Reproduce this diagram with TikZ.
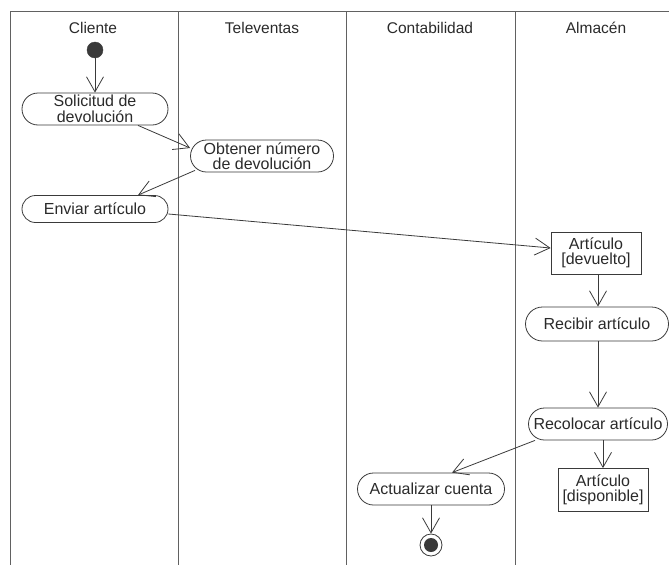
\documentclass[tikz,border=0pt]{standalone}
\usepackage{fontspec}
\setmainfont{Liberation Sans}
\usetikzlibrary{arrows.meta,shapes.misc,calc}
\definecolor{ink}{HTML}{3A3A3A}
\definecolor{txt}{HTML}{2A2A2A}
\begin{document}
\begin{tikzpicture}[x=1pt,y=-1pt,
  every node/.style={font=\fontsize{16}{15.5}\selectfont, text=txt},
  frame/.style={draw=ink!80, line width=0.9pt},
  action/.style={draw=ink, line width=0.8pt, rounded rectangle, inner sep=0pt, align=center},
  objbox/.style={draw=ink, line width=0.8pt, rectangle, inner sep=0pt, align=center},
  flow/.style={draw=ink, line width=0.8pt, -{Straight Barb[length=15pt,width=17pt,line width=0.8pt]}},
  lane/.style={anchor=base, font=\fontsize{15.5}{15.5}\selectfont}]
\useasboundingbox (0,0) rectangle (669,565);
% swimlane frame
\draw[frame] (669,11) -- (10,11) -- (10,565);
\draw[frame] (178,11) -- (178,565);
\draw[frame] (346,11) -- (346,565);
\draw[frame] (515,11) -- (515,565);
% lane titles
\node[lane] (h1) at (93,33) {Cliente};
\node[lane] (h2) at (262,33) {Televentas};
\node[lane] (h3) at (430,33) {Contabilidad};
\node[lane] (h4) at (596,33) {Almacén};
% initial and final
\node[circle, fill=ink, draw=ink, minimum size=16pt, inner sep=0pt] (ini) at (95,50) {};
\node[circle, draw=ink, line width=0.8pt, fill=white, minimum size=22pt, inner sep=0pt] (fin) at (431,545) {};
\node[circle, fill=ink, minimum size=14pt, inner sep=0pt] (finin) at (431,545) {};
% actions
\node[action, minimum width=146pt, minimum height=32pt] (sol) at (95,109) {Solicitud de\\devolución};
\node[action, minimum width=143pt, minimum height=32pt] (obt) at (262,156) {Obtener número\\de devolución};
\node[action, minimum width=146pt, minimum height=27pt] (env) at (95,209) {Enviar artículo};
\node[objbox, minimum width=90pt, minimum height=42pt] (dev) at (596,253) {Artículo\\{[}devuelto{]}};
\node[action, minimum width=143pt, minimum height=34pt] (rcb) at (597,324) {Recibir artículo};
\node[action, minimum width=139pt, minimum height=32pt] (rec) at (598,424) {Recolocar artículo};
\node[action, minimum width=147pt, minimum height=32pt] (act) at (431,489) {Actualizar cuenta};
\node[objbox, minimum width=90pt, minimum height=43pt] (dis) at (603,490) {Artículo\\{[}disponible{]}};
% flows
\draw[flow] (ini) -- (sol);
\draw[flow] ([xshift=43pt]sol.south) -- ([yshift=8pt]obt.west);
\draw[flow] ([xshift=-67pt,yshift=2pt]obt.south) -- ([xshift=43pt]env.north);
\draw[flow] ([yshift=-5pt]env.east) -- ([yshift=5pt]dev.west);
\draw[flow] ([xshift=2pt]dev.south) -- ([xshift=1pt]rcb.north);
\draw[flow] ([xshift=1pt]rcb.south) -- (rec.north);
\draw[flow] ([xshift=-63pt]rec.south) -- ([xshift=21pt]act.north);
\draw[flow] (rec.south -| dis.north) -- (dis.north);
\draw[flow] (act.south) -- (fin.north);
\end{tikzpicture}
\end{document}
